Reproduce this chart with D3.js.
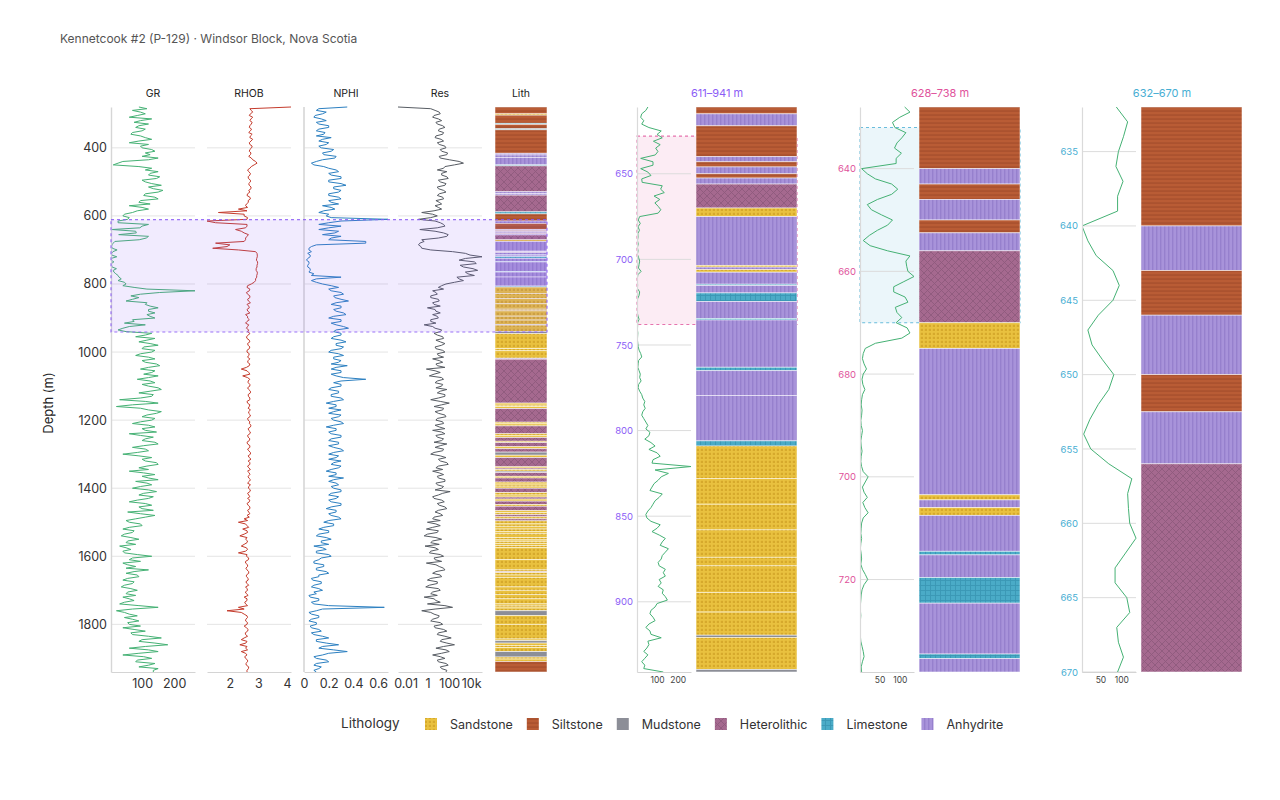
<!DOCTYPE html>
<html>
<head>
<meta charset="utf-8">
<script src="https://cdn.jsdelivr.net/npm/d3@7"></script>
<style>
  body { margin: 0; background: #fff; }
</style>
</head>
<body>
<div id="chart"></div>
<script>
// ---- data ---------------------------------------------------------------
// overview logs, sampled every 5 m from 280 m (one row = 50 m)
const depthTop = 280, depthBase = 1940, logStep = 5;
const depthTicks = [400, 600, 800, 1000, 1200, 1400, 1600, 1800];

const grLog = [
  90, 115, 70, 95, 110, 85, 60, 130, 95, 75,
  120, 90, 80, 110, 100, 70, 65, 95, 110, 130,
  90, 60, 120, 95, 100, 130, 140, 110, 125, 100,
  150, 120, 40, 25, 10, 90, 130, 110, 150, 125,
  120, 155, 145, 100, 110, 130, 160, 120, 135, 165,
  150, 110, 105, 140, 150, 95, 90, 125, 60, 100,
  120, 85, 70, 45, 40, 60, 55, 25, 25, 120,
  100, 93, 6, 80, 82, 27, 120, 113, 91, 15,
  10, 6, 5, 7, 22, 9, 5, 5, 21, 3,
  3, 12, 4, 5, 6, 20, 10, 12, 18, 25,
  28, 35, 25, 45, 50, 40, 75, 115, 265, 155,
  95, 65, 90, 70, 50, 115, 110, 125, 150, 120,
  120, 140, 115, 125, 140, 70, 75, 45, 110, 60,
  40, 25, 50, 130, 110, 80, 140, 115, 90, 125,
  150, 105, 100, 140, 130, 95, 80, 120, 140, 100,
  110, 145, 155, 120, 95, 140, 130, 105, 150, 120,
  85, 125, 140, 100, 120, 150, 160, 125, 90, 135,
  130, 95, 30, 110, 150, 70, 20, 95, 120, 160,
  145, 115, 100, 140, 130, 95, 70, 120, 140, 100,
  110, 145, 60, 95, 135, 110, 100, 140, 150, 105,
  70, 110, 120, 85, 40, 90, 130, 100, 110, 145,
  150, 115, 90, 120, 60, 105, 140, 100, 120, 150,
  80, 115, 130, 95, 70, 120, 145, 105, 90, 135,
  120, 85, 60, 110, 130, 90, 100, 135, 55, 95,
  140, 110, 80, 50, 60, 95, 100, 60, 40, 75,
  70, 45, 35, 65, 90, 55, 50, 80, 30, 50,
  65, 40, 45, 85, 130, 70, 60, 95, 40, 55,
  80, 50, 120, 75, 50, 85, 90, 55, 40, 75,
  70, 45, 35, 65, 85, 55, 50, 80, 40, 60,
  75, 45, 30, 90, 150, 70, 20, 45, 60, 85,
  45, 70, 90, 55, 60, 95, 40, 75, 110, 65,
  70, 120, 160, 100, 90, 140, 180, 110, 60, 120,
  150, 90, 40, 105, 130, 85, 80, 140, 120, 90,
  150, 135, 135
];
const rhobLog = [
  4.14, 2.7, 2.75, 2.8, 2.72, 2.68, 2.8, 2.74, 2.7, 2.78,
  2.75, 2.7, 2.68, 2.76, 2.72, 2.66, 2.78, 2.72, 2.7, 2.8,
  2.74, 2.68, 2.7, 2.78, 2.76, 2.7, 2.68, 2.74, 2.72, 2.66,
  2.75, 2.8, 2.9, 2.95, 2.85, 2.75, 2.7, 2.62, 2.66, 2.72,
  2.7, 2.64, 2.65, 2.72, 2.72, 2.66, 2.68, 2.74, 2.74, 2.66,
  2.7, 2.62, 2.6, 2.7, 2.72, 2.64, 2.65, 2.58, 2.55, 2.62,
  2.3, 2.6, 1.6, 2.5, 2.5, 2.62, 2.6, 1.2, 1.5, 2.6,
  2.6, 2.55, 2.2, 2.4, 2.5, 2.65, 2.6, 2.55, 2.55, 2.5,
  1.5, 2.0, 1.9, 1.4, 2.3, 2.9, 2.95, 2.96, 2.96, 2.94,
  2.93, 2.97, 2.97, 2.95, 2.95, 2.92, 2.92, 2.96, 2.96, 2.94,
  2.94, 2.9, 2.9, 2.85, 2.75, 2.62, 2.6, 2.7, 2.68, 2.58,
  2.62, 2.7, 2.7, 2.62, 2.65, 2.72, 2.6, 2.66, 2.68, 2.6,
  2.63, 2.7, 2.55, 2.62, 2.62, 2.68, 2.6, 2.55, 2.66, 2.62,
  2.58, 2.66, 2.62, 2.7, 2.65, 2.58, 2.6, 2.68, 2.7, 2.62,
  2.64, 2.7, 2.68, 2.6, 2.6, 2.68, 2.66, 2.62, 2.7, 2.64,
  2.62, 2.7, 2.68, 2.58, 2.4, 2.6, 2.66, 2.7, 2.45, 2.62,
  2.7, 2.64, 2.64, 2.7, 2.7, 2.62, 2.66, 2.72, 2.72, 2.64,
  2.65, 2.7, 2.7, 2.6, 2.62, 2.7, 2.68, 2.64, 2.72, 2.66,
  2.66, 2.72, 2.7, 2.62, 2.64, 2.7, 2.68, 2.74, 2.72, 2.64,
  2.66, 2.72, 2.7, 2.62, 2.64, 2.7, 2.68, 2.6, 2.62, 2.7,
  2.7, 2.62, 2.66, 2.72, 2.72, 2.64, 2.68, 2.74, 2.64, 2.7,
  2.7, 2.62, 2.66, 2.72, 2.62, 2.68, 2.7, 2.64, 2.66, 2.72,
  2.68, 2.62, 2.72, 2.66, 2.65, 2.72, 2.7, 2.62, 2.66, 2.7,
  2.62, 2.7, 2.68, 2.6, 2.64, 2.7, 2.7, 2.62, 2.66, 2.7,
  2.6, 2.68, 2.5, 2.62, 2.3, 2.55, 2.6, 2.66, 2.45, 2.6,
  2.62, 2.5, 2.35, 2.6, 2.55, 2.62, 2.6, 2.5, 2.4, 2.58,
  2.62, 2.55, 2.3, 2.6, 2.58, 2.66, 2.65, 2.55, 2.55, 2.62,
  2.62, 2.56, 2.6, 2.66, 2.66, 2.58, 2.58, 2.64, 2.64, 2.56,
  2.6, 2.66, 2.55, 2.6, 2.62, 2.54, 2.58, 2.64, 2.5, 2.6,
  2.6, 2.52, 2.55, 2.62, 2.3, 2.5, 1.9, 2.4, 2.5, 2.6,
  2.62, 2.56, 2.55, 2.62, 2.6, 2.5, 2.58, 2.64, 2.62, 2.54,
  2.55, 2.62, 2.5, 2.4, 2.6, 2.56, 2.35, 2.6, 2.55, 2.62,
  2.4, 2.55, 2.6, 2.52, 2.55, 2.62, 2.62, 2.56, 2.58, 2.66,
  2.65, 2.6, 2.6
];
const nphiLog = [
  0.35, 0.12, 0.1, 0.18, 0.15, 0.09, 0.08, 0.14, 0.18, 0.1,
  0.12, 0.2, 0.2, 0.12, 0.1, 0.17, 0.16, 0.1, 0.22, 0.15,
  0.12, 0.2, 0.18, 0.12, 0.14, 0.24, 0.22, 0.15, 0.16, 0.26,
  0.25, 0.15, 0.1, 0.06, 0.08, 0.16, 0.2, 0.26, 0.28, 0.2,
  0.22, 0.3, 0.3, 0.2, 0.2, 0.3, 0.34, 0.24, 0.24, 0.3,
  0.28, 0.2, 0.2, 0.28, 0.3, 0.2, 0.22, 0.28, 0.15, 0.22,
  0.25, 0.16, 0.12, 0.2, 0.18, 0.22, 0.68, 0.3, 0.2, 0.12,
  0.3, 0.2, 0.12, 0.28, 0.25, 0.15, 0.3, 0.22, 0.2, 0.5,
  0.5, 0.1, 0.06, 0.04, 0.04, 0.06, 0.03, 0.05, 0.05, 0.03,
  0.02, 0.04, 0.04, 0.03, 0.03, 0.05, 0.05, 0.04, 0.08, 0.06,
  0.3, 0.1, 0.06, 0.1, 0.15, 0.22, 0.28, 0.2, 0.22, 0.3,
  0.32, 0.24, 0.25, 0.3, 0.36, 0.26, 0.22, 0.3, 0.3, 0.24,
  0.26, 0.32, 0.34, 0.24, 0.2, 0.3, 0.3, 0.22, 0.26, 0.32,
  0.36, 0.26, 0.24, 0.3, 0.3, 0.24, 0.22, 0.3, 0.34, 0.26,
  0.26, 0.32, 0.3, 0.22, 0.2, 0.28, 0.32, 0.24, 0.24, 0.3,
  0.28, 0.22, 0.35, 0.26, 0.22, 0.3, 0.3, 0.22, 0.26, 0.32,
  0.5, 0.3, 0.24, 0.3, 0.3, 0.22, 0.2, 0.28, 0.28, 0.22,
  0.22, 0.3, 0.32, 0.24, 0.18, 0.26, 0.26, 0.2, 0.3, 0.24,
  0.2, 0.3, 0.28, 0.22, 0.24, 0.3, 0.32, 0.24, 0.18, 0.26,
  0.26, 0.2, 0.22, 0.3, 0.3, 0.22, 0.2, 0.28, 0.28, 0.2,
  0.24, 0.3, 0.32, 0.24, 0.2, 0.28, 0.26, 0.2, 0.3, 0.24,
  0.22, 0.3, 0.28, 0.22, 0.18, 0.26, 0.26, 0.2, 0.32, 0.24,
  0.2, 0.26, 0.28, 0.22, 0.24, 0.3, 0.3, 0.22, 0.2, 0.28,
  0.26, 0.2, 0.22, 0.3, 0.3, 0.22, 0.18, 0.26, 0.26, 0.2,
  0.22, 0.28, 0.3, 0.2, 0.16, 0.24, 0.24, 0.16, 0.12, 0.2,
  0.2, 0.12, 0.1, 0.18, 0.22, 0.14, 0.14, 0.2, 0.08, 0.15,
  0.18, 0.1, 0.1, 0.2, 0.22, 0.14, 0.12, 0.08, 0.08, 0.16,
  0.16, 0.1, 0.1, 0.18, 0.2, 0.12, 0.12, 0.06, 0.07, 0.14,
  0.14, 0.08, 0.06, 0.12, 0.15, 0.08, 0.1, 0.04, 0.05, 0.12,
  0.12, 0.06, 0.08, 0.2, 0.65, 0.15, 0.1, 0.04, 0.06, 0.12,
  0.12, 0.06, 0.04, 0.1, 0.1, 0.05, 0.06, 0.12, 0.14, 0.06,
  0.08, 0.15, 0.2, 0.1, 0.1, 0.18, 0.28, 0.15, 0.12, 0.24,
  0.35, 0.2, 0.15, 0.08, 0.1, 0.18, 0.2, 0.1, 0.08, 0.14,
  0.12, 0.08, 0.1
];
const resLog = [
  0.002, 2, 5, 12, 15, 4, 3, 10, 20, 6,
  8, 25, 40, 12, 10, 30, 25, 6, 5, 18,
  30, 8, 12, 40, 50, 15, 20, 70, 60, 12,
  15, 100, 800, 2000, 300, 40, 30, 8, 60, 20,
  20, 60, 80, 10, 15, 50, 40, 8, 10, 30,
  50, 12, 8, 25, 30, 6, 12, 20, 5, 10,
  20, 4, 0.3, 3, 8, 2, 0.15, 5, 15, 30,
  40, 8, 0.2, 5, 30, 80, 60, 10, 0.3, 0.5,
  0.2, 0.15, 0.25, 0.3, 2, 200, 3000, 8000, 100000, 3000,
  800, 20000, 30000, 1000, 2000, 15000, 40000, 3000, 5000, 20000,
  500, 800, 2000, 300, 50, 20, 10, 30, 3, 6,
  8, 2, 2, 10, 12, 3, 4, 15, 1, 5,
  6, 15, 3, 8, 10, 2, 2, 6, 0.5, 3,
  5, 20, 15, 4, 8, 25, 30, 6, 15, 40,
  20, 5, 6, 25, 40, 8, 10, 30, 3, 12,
  25, 6, 8, 40, 0.8, 5, 15, 4, 1.5, 20,
  30, 8, 5, 25, 20, 6, 60, 15, 8, 40,
  40, 10, 2, 15, 100, 20, 4, 30, 25, 5,
  10, 40, 50, 8, 6, 25, 30, 5, 12, 40,
  3, 20, 40, 6, 8, 30, 20, 4, 60, 15,
  5, 30, 25, 4, 2, 15, 50, 10, 15, 60,
  80, 10, 6, 25, 3, 12, 30, 8, 10, 40,
  40, 6, 8, 30, 20, 5, 120, 25, 10, 3,
  4, 20, 35, 8, 12, 40, 60, 10, 5, 15,
  25, 4, 3, 15, 1, 6, 15, 3, 0.8, 10,
  8, 1, 0.5, 6, 20, 3, 2, 12, 0.6, 5,
  10, 2, 1.5, 15, 30, 4, 5, 20, 0.8, 6,
  12, 30, 40, 6, 3, 15, 20, 2, 1, 8,
  8, 1.5, 0.7, 10, 15, 3, 2, 8, 0.5, 4,
  6, 15, 1, 40, 200, 5, 0.3, 2, 4, 12,
  10, 3, 2, 15, 25, 4, 5, 30, 60, 10,
  8, 40, 150, 20, 15, 60, 300, 30, 6, 50,
  100, 20, 3, 15, 40, 8, 10, 50, 80, 15,
  20, 60, 50
];

// GR detail for 611-941 m, every 2 m
const grZoomTop = 611, grZoomStep = 2;
const grZoom = [
  55, 45, 25, 20, 35, 25, 60, 120, 100, 125,
  82, 115, 93, 104, 91, 20, 80, 80, 20, 55,
  70, 25, 27, 125, 117, 135, 85, 113, 89, 105,
  118, 105, 15, 8, 18, 7, 14, 6, 7, 4,
  8, 4, 7, 4, 10, 15, 12, 9, 22, 6,
  4, 4, 5, 4, 15, 12, 5, 3, 4, 2,
  3, 7, 12, 5, 5, 4, 6, 5, 4, 6,
  8, 12, 20, 25, 10, 8, 6, 12, 18, 15,
  22, 10, 8, 15, 25, 30, 40, 35, 42, 30,
  25, 35, 45, 55, 45, 65, 60, 40, 70, 90,
  60, 100, 115, 80, 75, 265, 90, 155, 120, 105,
  85, 75, 65, 125, 110, 90, 80, 70, 55, 45,
  50, 70, 115, 100, 75, 110, 140, 125, 115, 155,
  140, 125, 120, 105, 110, 140, 130, 140, 110, 120,
  105, 130, 125, 140, 150, 100, 90, 70, 65, 80,
  90, 60, 45, 65, 70, 120, 55, 60, 50, 35,
  55, 40, 25, 40, 35, 130
];

// GR fine sampling for 628-738 m, every 1 m
const grFineTop = 628, grFineStep = 1;
const grFine = [
  112, 125, 100, 82, 88, 115, 105, 93, 87, 104,
  91, 91, 6, 20, 40, 80, 95, 80, 45, 20,
  30, 55, 82, 70, 45, 25, 10, 27, 70, 125,
  115, 117, 120, 135, 110, 85, 85, 113, 120, 89,
  93, 105, 91, 118, 125, 105, 40, 15, 10, 8,
  12, 18, 10, 7, 9, 14, 8, 6, 5, 7,
  6, 4, 5, 8, 6, 4, 5, 7, 5, 4,
  6, 10, 22, 15, 8, 12, 20, 9, 14, 22,
  10, 6, 5, 4, 6, 4, 3, 5, 6, 4,
  8, 15, 21, 12, 7, 5, 4, 3, 3, 4,
  3, 2, 3, 3, 4, 7, 10, 12, 8, 5,
  6
];

// lithology: [top depth, code]; each layer runs to the next top
const lithNames = ["Sandstone", "Siltstone", "Mudstone", "Heterolithic", "Limestone", "Anhydrite"];
const lithCodes = ["Ss", "Sl", "Md", "Ht", "Ls", "An"];
const lithBase = 1940;
const lithLayers = [
  [280, "Sl"], [300, "Ss"], [304, "Sl"], [328, "Ls"], [331, "Sl"], [344, "Ls"], [347, "Sl"],
  [416, "An"], [421, "An"], [428, "An"], [450, "Ls"], [453, "Ht"], [529, "An"], [534, "An"],
  [539, "Ht"], [588, "Ls"], [594, "Sl"], [615, "An"], [622, "Sl"], [640, "An"], [643, "Sl"],
  [646, "An"], [650, "Sl"], [652.5, "An"], [656, "Ht"], [670, "Ss"], [675, "An"],
  [703.5, "Ss"], [704.5, "An"], [706, "Ss"], [707.5, "An"], [714.5, "Ls"], [715.2, "An"],
  [719.6, "Ls"], [724.6, "An"], [734.5, "Ls"], [735.4, "An"], [763, "Ls"], [765, "An"],
  [779.5, "An"], [806, "Ls"], [809, "Ss"], [828, "Ss"], [843, "Ss"], [858, "Ss"], [874, "Ss"],
  [879, "Ss"], [894.5, "Ss"], [906, "Ss"], [919.5, "Md"], [920.8, "Ss"], [939.5, "Md"],
  [946, "Ss"], [990, "Ss"], [996, "Ss"], [1018, "An"], [1021, "Ht"], [1150, "Ss"], [1156, "Ss"],
  [1160, "Ss"], [1166, "Ht"], [1206, "Ss"], [1211, "Ss"], [1217, "Ht"], [1240, "Ss"],
  [1246, "Ss"], [1251, "Ht"], [1262, "Ss"], [1266, "Ht"], [1278, "Ss"], [1284, "Ht"],
  [1294, "Md"], [1303, "Ss"], [1310, "Ht"], [1337, "Ss"], [1341, "Ht"], [1345, "Ss"],
  [1350, "Md"], [1354, "Ht"], [1365, "Ss"], [1370, "Ht"], [1382, "Ss"], [1388, "Ss"],
  [1394, "Ss"], [1400, "Ht"], [1413, "Ss"], [1420, "Ss"], [1426, "Ht"], [1432, "Ss"],
  [1438, "Ht"], [1448, "Ss"], [1453, "Ht"], [1466, "Ss"], [1472, "Ss"], [1478, "Ht"],
  [1484, "Ss"], [1490, "Ht"], [1496, "Ss"], [1505, "Ss"], [1512, "Ss"], [1520, "Ss"],
  [1528, "Ss"], [1534, "Ss"], [1545, "Ss"], [1552, "Ss"], [1556, "Ss"], [1562, "Ss"],
  [1568, "Ss"], [1575, "Ss"], [1610, "Ss"], [1640, "Ss"], [1645, "Ht"], [1648, "Ss"],
  [1655, "Ss"], [1662, "Ss"], [1690, "Ss"], [1700, "Ss"], [1712, "Ss"], [1725, "Ss"],
  [1740, "Ss"], [1746, "Ss"], [1752, "Ss"], [1760, "Md"], [1774, "Ss"], [1800, "Ss"],
  [1843, "Ss"], [1848, "Md"], [1855, "Ss"], [1862, "Ss"], [1868, "Ss"], [1880, "Md"],
  [1896, "Ss"], [1902, "Ss"], [1909, "Sl"]
];

// zoom windows
const zoomA = [611, 941], zoomB = [628, 738], zoomC = [632, 670];
const ticksA = [650, 700, 750, 800, 850, 900];
const ticksB = [640, 660, 680, 700, 720];
const ticksC = [635, 640, 645, 650, 655, 660, 665, 670];

// ---- setup --------------------------------------------------------------
const FONT = "Inter, 'Helvetica Neue', Arial, sans-serif";
const W = 1280, H = 800, TOP = 107, BOT = 672;

const svg = d3.select("#chart").append("svg")
    .attr("width", W).attr("height", H)
    .attr("font-family", FONT);
const defs = svg.append("defs");

// lithology fill patterns
function pattern(id, w, h, base, draw) {
  const p = defs.append("pattern").attr("id", id)
      .attr("patternUnits", "userSpaceOnUse").attr("width", w).attr("height", h);
  p.append("rect").attr("width", w).attr("height", h).attr("fill", base);
  if (draw) draw(p);
}
pattern("pat-Ss", 4, 4, "#e9c13f", p => p.append("rect").attr("x", 0.8).attr("y", 0.8)
    .attr("width", 2.2).attr("height", 2.2).attr("fill", "#d6a92c"));
pattern("pat-Sl", 4, 4, "#b95c35", p => p.append("rect").attr("y", 2.4)
    .attr("width", 4).attr("height", 1.3).attr("fill", "#a54e2c"));
pattern("pat-Md", 4, 4, "#8c8e97");
pattern("pat-Ht", 7, 7, "#a5698f", p => {
  p.append("path").attr("d", "M0,0L7,7M7,0L0,7").attr("stroke", "#8f5a7d").attr("stroke-width", 0.9);
});
pattern("pat-Ls", 5, 5, "#4aabc7", p => {
  p.append("path").attr("d", "M0,0.5H5M0.5,0V5").attr("stroke", "#3a97b4").attr("stroke-width", 0.9);
});
pattern("pat-An", 4, 4, "#a893da", p => p.append("rect").attr("x", 0)
    .attr("width", 1.4).attr("height", 4).attr("fill", "#9680cd"));

const lithColorOf = c => `url(#pat-${c})`;
const layers = lithLayers.map((d, i) => ({
  top: d[0],
  base: i < lithLayers.length - 1 ? lithLayers[i + 1][0] : lithBase,
  code: d[1]
}));

const toSeries = (vals, top, step) => vals.map((v, i) => ({ depth: top + i * step, v }));

let clipId = 0;
function clipped(g, x, y, w, h) {
  const id = "clip" + (clipId++);
  defs.append("clipPath").attr("id", id).append("rect")
      .attr("x", x).attr("y", y).attr("width", w).attr("height", h);
  return g.append("g").attr("clip-path", `url(#${id})`);
}

function drawLith(g, y, x, w, domain) {
  const inWin = layers.filter(l => l.base > domain[0] && l.top < domain[1]);
  const cg = clipped(g, x, y.range()[0], w, y.range()[1] - y.range()[0]);
  cg.selectAll("rect").data(inWin).join("rect")
      .attr("x", x).attr("width", w)
      .attr("y", d => y(Math.max(d.top, domain[0])))
      .attr("height", d => y(Math.min(d.base, domain[1])) - y(Math.max(d.top, domain[0])))
      .attr("fill", d => lithColorOf(d.code))
      .attr("stroke", "#fff").attr("stroke-opacity", 0.65).attr("stroke-width", 0.8);
}

// ---- title ----------------------------------------------------------------
svg.append("text").attr("x", 60).attr("y", 43)
    .attr("font-size", 12).attr("fill", "#555")
    .text("Kennetcook #2 (P-129) · Windsor Block, Nova Scotia");

// ---- overview tracks --------------------------------------------------------
const yMain = d3.scaleLinear().domain([depthTop, depthBase]).range([TOP, BOT]);
const trackW = 84;
const resFmt = v => v >= 1000 ? (v / 1000) + "k" : String(v);
const tracks = [
  { name: "GR", values: grLog, color: "#45b174", x: 111, ticks: [100, 200] },
  { name: "RHOB", values: rhobLog, color: "#c43b2c", x: 207, ticks: [2, 3, 4] },
  { name: "NPHI", values: nphiLog, color: "#2c80c1", x: 304, ticks: [0, 0.2, 0.4, 0.6], zero: true },
  { name: "Res", values: resLog, color: "#575c63", x: 398, ticks: [0.01, 1, 100, 10000], log: true, fmt: resFmt }
];

const main = svg.append("g");
tracks.forEach(t => {
  const series = toSeries(t.values, depthTop, logStep);
  const ext = d3.extent(t.values);
  if (t.zero) ext[0] = 0;
  const sx = (t.log ? d3.scaleLog() : d3.scaleLinear()).domain(ext).range([t.x, t.x + trackW]);

  main.append("g").selectAll("line").data(depthTicks).join("line")
      .attr("x1", t.x).attr("x2", t.x + trackW)
      .attr("y1", d => yMain(d)).attr("y2", d => yMain(d))
      .attr("stroke", "#e4e4e4");

  if (t.zero) {
    main.append("line").attr("x1", sx(0)).attr("x2", sx(0))
        .attr("y1", TOP).attr("y2", BOT).attr("stroke", "#d6d6d6").attr("stroke-width", 1.6);
  }

  const cg = clipped(main, t.x, TOP - 1, trackW, BOT - TOP + 2);
  cg.append("path").datum(series)
      .attr("fill", "none").attr("stroke", t.color).attr("stroke-width", 1)
      .attr("d", d3.line().x(d => sx(d.v)).y(d => yMain(d.depth)));

  const ax = main.append("g").attr("transform", `translate(0,${BOT})`)
      .call(d3.axisBottom(sx).tickValues(t.ticks).tickSize(0).tickPadding(7)
        .tickFormat(t.fmt || (v => String(v))));
  ax.attr("font-family", FONT).attr("font-size", 12.5);
  ax.select(".domain").attr("stroke", "#d4d4d4");
  ax.selectAll("text").attr("fill", "#333");

  main.append("text").attr("x", t.x + trackW / 2).attr("y", 97)
      .attr("text-anchor", "middle").attr("font-size", 10.5).attr("fill", "#222")
      .text(t.name);
});

// depth axis
const yAx = main.append("g").attr("transform", `translate(111,0)`)
    .call(d3.axisLeft(yMain).tickValues(depthTicks).tickSize(0).tickPadding(4)
      .tickSizeOuter(0).tickFormat(d3.format("d")));
yAx.attr("font-family", FONT).attr("font-size", 12.5);
yAx.select(".domain").attr("stroke", "#d6d6d6").attr("stroke-width", 1.4);
yAx.selectAll("text").attr("fill", "#333");

main.append("text")
    .attr("transform", "translate(53,403) rotate(-90)")
    .attr("text-anchor", "middle").attr("font-size", 13).attr("fill", "#222")
    .text("Depth (m)");

// lithology column
drawLith(main, yMain, 495, 52, [depthTop, depthBase]);
main.append("text").attr("x", 521).attr("y", 97)
    .attr("text-anchor", "middle").attr("font-size", 10.5).attr("fill", "#222").text("Lith");

// highlighted interval on overview
main.append("rect")
    .attr("x", 111).attr("width", 547 - 111)
    .attr("y", yMain(zoomA[0])).attr("height", yMain(zoomA[1]) - yMain(zoomA[0]))
    .attr("fill", "#8b5cf6").attr("fill-opacity", 0.12)
    .attr("stroke", "#8b5cf6").attr("stroke-opacity", 0.85)
    .attr("stroke-width", 1.2).attr("stroke-dasharray", "3,3");

// ---- zoom panels ------------------------------------------------------------
function drawPanel(o) {
  const g = svg.append("g");
  const y = d3.scaleLinear().domain(o.domain).range([TOP, BOT]);
  const gw = 54, lx = o.x + 59, lw = 101;
  const series = toSeries(o.gr, o.grTop, o.grStep)
      .filter(d => d.depth >= o.domain[0] && d.depth <= o.domain[1]);
  const sx = d3.scaleLinear().domain(d3.extent(series, d => d.v)).range([o.x, o.x + gw]);

  g.append("text").attr("x", o.x + 80).attr("y", 97)
      .attr("text-anchor", "middle").attr("font-size", 11).attr("fill", o.color)
      .text(`${o.domain[0]}–${o.domain[1]} m`);

  // nested interval shown in the next panel
  if (o.zone) {
    g.append("rect").attr("x", o.x).attr("width", lx + lw - o.x)
        .attr("y", y(o.zone.range[0])).attr("height", y(o.zone.range[1]) - y(o.zone.range[0]))
        .attr("fill", o.zone.color).attr("fill-opacity", 0.11)
        .attr("stroke", o.zone.color).attr("stroke-opacity", 0.8)
        .attr("stroke-width", 1.1).attr("stroke-dasharray", "3,3");
  }

  g.append("g").selectAll("line").data(o.ticks).join("line")
      .attr("x1", o.x).attr("x2", o.x + gw)
      .attr("y1", d => y(d)).attr("y2", d => y(d))
      .attr("stroke", "#dcdcdc");

  const cg = clipped(g, o.x, TOP - 1, gw + 1, BOT - TOP + 2);
  cg.append("path").datum(series)
      .attr("fill", "none").attr("stroke", "#45b174").attr("stroke-width", 1)
      .attr("d", d3.line().x(d => sx(d.v)).y(d => y(d.depth)));

  const ya = g.append("g").attr("transform", `translate(${o.x},0)`)
      .call(d3.axisLeft(y).tickValues(o.ticks).tickSize(0).tickPadding(4).tickSizeOuter(0));
  ya.attr("font-family", FONT).attr("font-size", 9.5);
  ya.select(".domain").attr("stroke", "#dadada").attr("stroke-width", 1.2);
  ya.selectAll("text").attr("fill", o.color);

  const xa = g.append("g").attr("transform", `translate(0,${BOT})`)
      .call(d3.axisBottom(sx).tickValues(o.grTicks).tickSize(0).tickPadding(5));
  xa.attr("font-family", FONT).attr("font-size", 8.5);
  xa.select(".domain").attr("stroke", "#d4d4d4");
  xa.selectAll("text").attr("fill", "#444");

  drawLith(g, y, lx, lw, o.domain);
}

drawPanel({ x: 637, domain: zoomA, ticks: ticksA, color: "#8b5cf6",
  gr: grZoom, grTop: grZoomTop, grStep: grZoomStep, grTicks: [100, 200],
  zone: { range: zoomB, color: "#e0529b" } });
drawPanel({ x: 860, domain: zoomB, ticks: ticksB, color: "#e0529b",
  gr: grFine, grTop: grFineTop, grStep: grFineStep, grTicks: [50, 100],
  zone: { range: zoomC, color: "#47aed3" } });
drawPanel({ x: 1082, domain: zoomC, ticks: ticksC, color: "#47aed3",
  gr: grFine, grTop: grFineTop, grStep: grFineStep, grTicks: [50, 100] });

// ---- legend -----------------------------------------------------------------
const leg = svg.append("g");
leg.append("text").attr("x", 341).attr("y", 728)
    .attr("font-size", 13.5).attr("fill", "#333").text("Lithology");
let lxPos = 425;
lithNames.forEach((name, i) => {
  leg.append("rect").attr("x", lxPos).attr("y", 718).attr("width", 12).attr("height", 12)
      .attr("fill", lithColorOf(lithCodes[i]));
  const t = leg.append("text").attr("x", lxPos + 25).attr("y", 729)
      .attr("font-size", 12.5).attr("fill", "#333").text(name);
  lxPos += 25 + t.node().getComputedTextLength() + 14;
});
</script>
</body>
</html>
